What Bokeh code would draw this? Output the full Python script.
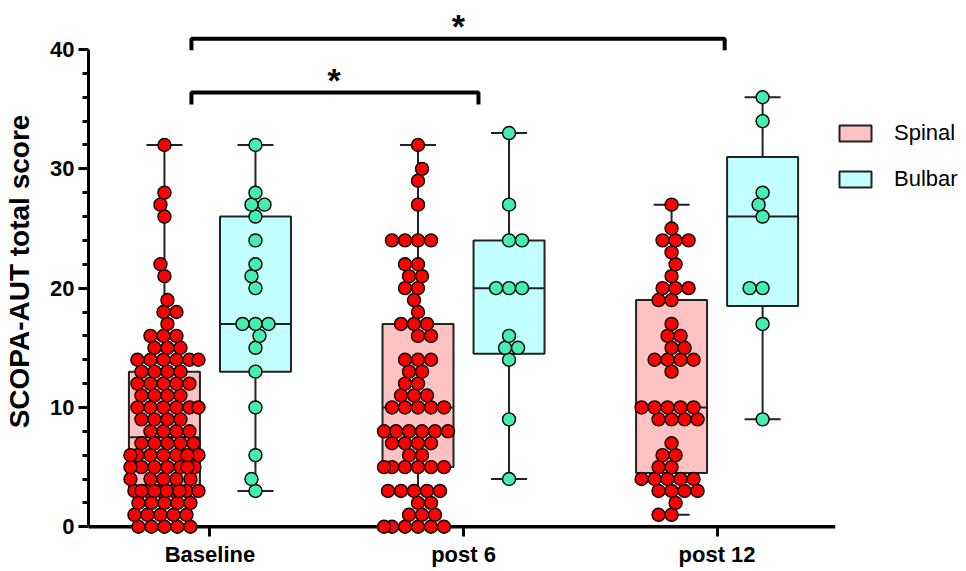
import numpy as np
from bokeh.plotting import figure
from bokeh.models import FixedTicker, Span, Legend, LegendItem, ColumnDataSource, Range1d
from bokeh.embed import file_html
from bokeh.resources import INLINE
from bokeh.core.properties import value

FONT = "Liberation Sans"

# ---------------- data ----------------
timepoints = ["Baseline", "post 6", "post 12"]
group_names = ["Spinal", "Bulbar"]
y_title = "SCOPA-AUT total score"
y_ticks = [0, 10, 20, 30, 40]
sig_label = "*"

spinal_baseline = [0, 0, 0, 0, 0, 1, 1, 1, 1, 1, 2, 2, 2, 2, 2,
                   3, 3, 3, 3, 3, 3, 3, 3, 3, 3, 4, 4, 4, 4, 4,
                   5, 5, 5, 5, 5, 5, 5, 6, 6, 6, 6, 6, 6, 6,
                   7, 7, 7, 7, 7, 8, 8, 8, 8, 9, 9, 9, 9,
                   10, 10, 10, 10, 10, 10, 11, 11, 11, 11, 12, 12, 12, 12, 12,
                   13, 13, 13, 13, 14, 14, 14, 14, 14, 14, 15, 15, 15, 16, 16, 16,
                   17, 18, 18, 19, 21, 22, 26, 27, 28, 32]
bulbar_baseline = [3, 4, 6, 10, 13, 15, 16, 17, 17, 17, 20, 21, 22, 24, 26, 27, 27, 28, 32]

spinal_post6 = [0, 0, 0, 0, 0, 0, 1, 1, 1, 2, 2, 3, 3, 3, 3, 3,
                5, 5, 5, 5, 5, 5, 6, 6, 7, 7, 7, 7, 8, 8, 8, 8, 8, 8,
                10, 10, 10, 10, 10, 11, 11, 11, 12, 12, 13, 13, 14, 14, 14,
                16, 16, 17, 17, 17, 18, 19, 20, 20, 21, 21, 22, 22,
                24, 24, 24, 24, 27, 29, 30, 32]
bulbar_post6 = [4, 9, 14, 15, 15, 16, 20, 20, 20, 24, 24, 27, 33]

spinal_post12 = [1, 1, 2, 3, 3, 3, 3, 4, 4, 4, 4, 4, 5, 5, 6, 6, 7,
                 9, 9, 9, 9, 10, 10, 10, 10, 10, 13, 14, 14, 14, 14,
                 15, 15, 16, 16, 17, 19, 19, 20, 20, 20, 21, 22, 23,
                 24, 24, 24, 25, 27]
bulbar_post12 = [9, 17, 20, 20, 26, 27, 28, 34, 36]

spinal_series = [spinal_baseline, spinal_post6, spinal_post12]
bulbar_series = [bulbar_baseline, bulbar_post6, bulbar_post12]

# ---------------- style / layout ----------------
GROUP_OFF = 0.1795
BOX_W = 0.28
CAP_W = 0.142
SPINAL_BOX = "#FFC2C2"
SPINAL_PT = "#FF0000"
BULBAR_BOX = "#C2FFFF"
BULBAR_PT = "#44EEB0"
EDGE = "#222222"
PX_X, PX_Y = 253.5, 11.93


def swarm(vals, dmin=12.5, maxw=34.0):
    ys = sorted(vals)
    placed, xs = [], []
    for i, v in enumerate(ys):
        yy = v * PX_Y
        choice = None
        best_c, best_d = 0.0, -1.0
        for k in np.arange(0, maxw + 0.01, 1.0):
            cands = [0.0] if k == 0 else ([k, -k] if i % 2 == 0 else [-k, k])
            for c in cands:
                d = min([np.hypot(c - px, yy - py) for px, py in placed], default=1e9)
                if d >= dmin:
                    choice = c
                    break
                if d > best_d:
                    best_d, best_c = d, c
            if choice is not None:
                break
        if choice is None:
            choice = best_c
        placed.append((choice, yy))
        xs.append(choice / PX_X)
    return np.array(xs), np.array(ys, dtype=float)


def stats(v):
    a = np.asarray(v, float)
    q1, med, q3 = np.percentile(a, [25, 50, 75], method="weibull")
    return a.min(), q1, med, q3, a.max()


p = figure(frame_width=747, frame_height=526,
           x_range=Range1d(-0.479, 2.467), y_range=Range1d(-0.65, 43.44),
           output_backend="svg", toolbar_location=None,
           min_border_left=88, min_border_top=8, min_border_right=0, min_border_bottom=0)
p.grid.visible = False
p.outline_line_color = None
p.background_fill_color = "white"

# x axis line at y = 0
p.add_layout(Span(location=0, dimension="width", line_color="black", line_width=3.5, level="underlay"))

box_renderers = {}
for gi, (name, series, boxc, ptc) in enumerate([("Spinal", spinal_series, SPINAL_BOX, SPINAL_PT),
                                                ("Bulbar", bulbar_series, BULBAR_BOX, BULBAR_PT)]):
    sign = -1 if gi == 0 else 1
    cx, mn, q1, md, q3, mx = [], [], [], [], [], []
    px, py = [], []
    for ti, vals in enumerate(series):
        c = ti + sign * GROUP_OFF
        a, b, m, d, e = stats(vals)
        cx.append(c); mn.append(a); q1.append(b); md.append(m); q3.append(d); mx.append(e)
        ox, oy = swarm(vals)
        px.extend(c + ox); py.extend(oy)
    cx = np.array(cx)
    src = ColumnDataSource(dict(x=cx, left=cx - BOX_W / 2, right=cx + BOX_W / 2,
                                cl=cx - CAP_W / 2, cr=cx + CAP_W / 2,
                                mn=mn, q1=q1, md=md, q3=q3, mx=mx))
    p.segment(x0="x", y0="mn", x1="x", y1="q1", source=src, line_color=EDGE, line_width=2)
    p.segment(x0="x", y0="q3", x1="x", y1="mx", source=src, line_color=EDGE, line_width=2)
    p.segment(x0="cl", y0="mn", x1="cr", y1="mn", source=src, line_color=EDGE, line_width=2)
    p.segment(x0="cl", y0="mx", x1="cr", y1="mx", source=src, line_color=EDGE, line_width=2)
    r = p.quad(left="left", right="right", bottom="q1", top="q3", source=src,
               fill_color=boxc, line_color=EDGE, line_width=2)
    box_renderers[name] = r
    p.segment(x0="left", y0="md", x1="right", y1="md", source=src, line_color=EDGE, line_width=2)
    p.scatter(x=px, y=py, size=13, fill_color=ptc, line_color="black", line_width=1.4)

# significance brackets
brackets = [(-0.073, 2.030, 40.9, 39.95, 0.98), (-0.073, 1.059, 36.4, 35.4, 0.49)]
for x0, x1, yt, yb, xs in brackets:
    p.line(x=[x0, x0, x1, x1], y=[yb, yt, yt, yb], line_color="black", line_width=4)
    p.text(x=[xs], y=[yt + 1.05], text=[sig_label], text_font=value(FONT), text_font_style="bold",
           text_font_size="34px", text_align="center", text_baseline="alphabetic", text_color="black")

# axes
xa = p.xaxis[0]
xa.ticker = FixedTicker(ticks=[0, 1, 2])
xa.major_label_overrides = {i: t for i, t in enumerate(timepoints)}
xa.axis_line_color = None
xa.major_tick_in = 8
xa.major_tick_out = 2
xa.major_tick_line_width = 3
xa.major_tick_line_color = "black"
xa.minor_tick_line_color = None
xa.major_label_standoff = 5
xa.major_label_text_font = FONT
xa.major_label_text_font_style = "bold"
xa.major_label_text_font_size = "22px"
xa.major_label_text_color = "black"

ya = p.yaxis[0]
ya.bounds = (0, 40)
ya.ticker = FixedTicker(ticks=y_ticks, minor_ticks=[v for v in range(2, 40, 2) if v % 10])
ya.axis_line_width = 3
ya.axis_line_color = "black"
ya.major_tick_in = 0
ya.major_tick_out = 10
ya.major_tick_line_width = 3
ya.minor_tick_in = 0
ya.minor_tick_out = 6
ya.minor_tick_line_width = 3
ya.minor_tick_line_color = "black"
ya.major_label_standoff = 4
ya.major_label_text_font = FONT
ya.major_label_text_font_style = "bold"
ya.major_label_text_font_size = "22px"
ya.major_label_text_color = "black"
ya.axis_label = y_title
ya.axis_label_text_font = FONT
ya.axis_label_text_font_style = "bold"
ya.axis_label_text_font_size = "28px"
ya.axis_label_text_color = "black"
ya.axis_label_standoff = 12

legend = Legend(items=[LegendItem(label=group_names[0], renderers=[box_renderers["Spinal"]]),
                       LegendItem(label=group_names[1], renderers=[box_renderers["Bulbar"]])],
                location=(0, 342), orientation="vertical", glyph_width=40, glyph_height=20,
                spacing=20, label_standoff=19, padding=0, margin=0, border_line_color=None,
                background_fill_alpha=0, label_text_font=FONT, label_text_font_size="22px",
                label_text_color="black")
p.add_layout(legend, "right")

open("out.html", "w").write(file_html(p, INLINE))
